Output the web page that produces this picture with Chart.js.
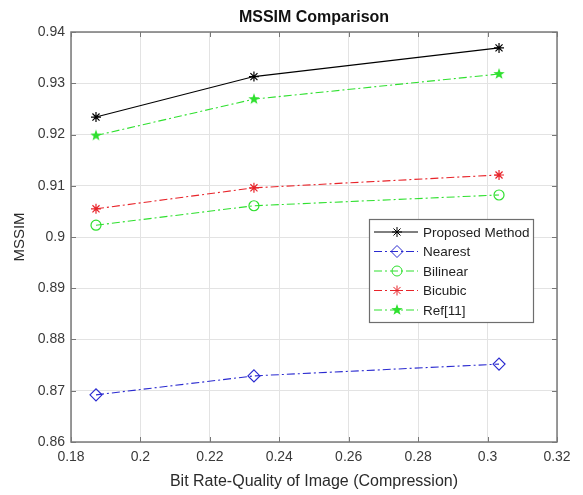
<!DOCTYPE html>
<html>
<head>
<meta charset="utf-8">
<script src="https://cdn.jsdelivr.net/npm/chart.js@4/dist/chart.umd.min.js"></script>
<style>
  body { margin: 0; background: #fff; }
  #wrap { width: 583px; height: 495px; }
</style>
</head>
<body>
<div id="wrap"><canvas id="chart"></canvas></div>
<script>
// Data
const bitRate = [0.1872, 0.2327, 0.3033];
const proposed = [0.9234, 0.9313, 0.9369];
const nearest = [0.8692, 0.8729, 0.8752];
const bilinear = [0.9023, 0.9061, 0.9082];
const bicubic = [0.9055, 0.9096, 0.9121];
const ref11 = [0.9198, 0.9269, 0.9318];

const FONT = '"Liberation Sans", Arial, Helvetica, sans-serif';
const dashDot = [8, 3, 2, 3];

function toPoints(ys) {
    return ys.map((y, i) => ({ x: bitRate[i], y: y }));
}

// filled five-pointed star for Ref[11]
function makePentagram(r, color) {
    const c = document.createElement('canvas');
    c.width = c.height = 2 * r + 2;
    const g = c.getContext('2d');
    g.fillStyle = color;
    g.beginPath();
    for (let i = 0; i < 10; i++) {
        const rad = i % 2 === 0 ? r : r * 0.4;
        const a = -Math.PI / 2 + i * Math.PI / 5;
        const px = r + 1 + rad * Math.cos(a);
        const py = r + 1 + rad * Math.sin(a);
        if (i === 0) g.moveTo(px, py); else g.lineTo(px, py);
    }
    g.closePath();
    g.fill();
    return c;
}

const green = '#2fe02f';
const star5 = makePentagram(6, green);

// MATLAB-like inward tick marks on all four sides
const boxTicks = {
    id: 'boxTicks',
    afterDatasetsDraw(chart) {
        const { ctx, chartArea: a, scales } = chart;
        ctx.save();
        ctx.strokeStyle = '#777';
        ctx.lineWidth = 1;
        ctx.beginPath();
        scales.x.ticks.forEach(t => {
            const px = Math.round(scales.x.getPixelForValue(t.value)) + 0.5;
            ctx.moveTo(px, a.bottom); ctx.lineTo(px, a.bottom - 5);
            ctx.moveTo(px, a.top); ctx.lineTo(px, a.top + 5);
        });
        scales.y.ticks.forEach(t => {
            const py = Math.round(scales.y.getPixelForValue(t.value)) + 0.5;
            ctx.moveTo(a.left, py); ctx.lineTo(a.left + 5, py);
            ctx.moveTo(a.right, py); ctx.lineTo(a.right - 5, py);
        });
        ctx.stroke();
        ctx.strokeStyle = '#7a7a7a';
        ctx.lineWidth = 1.5;
        ctx.strokeRect(a.left, a.top, a.right - a.left, a.bottom - a.top);
        ctx.restore();
    }
};

// legend box inside the plot, like the original
const boxLegend = {
    id: 'boxLegend',
    afterDraw(chart) {
        const { ctx } = chart;
        const x0 = 369, y0 = 219, w = 164, h = 103;
        ctx.save();
        ctx.fillStyle = '#fff';
        ctx.fillRect(x0, y0, w, h);
        ctx.strokeStyle = '#6e6e6e';
        ctx.lineWidth = 1.2;
        ctx.strokeRect(x0 + 0.5, y0 + 0.5, w, h);
        ctx.font = '13.5px ' + FONT;
        ctx.textBaseline = 'middle';
        chart.data.datasets.forEach((ds, i) => {
            const y = y0 + 13 + i * 19.5;
            ctx.strokeStyle = ds.borderColor;
            ctx.lineWidth = 1;
            ctx.setLineDash(ds.borderDash || []);
            ctx.beginPath();
            ctx.moveTo(x0 + 5, y);
            ctx.lineTo(x0 + 49, y);
            ctx.stroke();
            ctx.setLineDash([]);
            ctx.strokeStyle = ds.pointBorderColor;
            ctx.fillStyle = ds.pointBackgroundColor;
            Chart.helpers.drawPoint(ctx, {
                pointStyle: ds.pointStyle,
                radius: ds.pointRadius,
                rotation: 0,
                borderWidth: ds.pointBorderWidth
            }, x0 + 28, y);
            ctx.fillStyle = '#222';
            ctx.fillText(ds.label, x0 + 54, y + 1);
        });
        ctx.restore();
    }
};

function series(label, ys, color, style, radius, dash) {
    return {
        label: label,
        data: toPoints(ys),
        borderColor: color,
        borderWidth: 1.1,
        borderDash: dash,
        pointStyle: style,
        pointRadius: radius,
        pointBorderColor: color,
        pointBackgroundColor: 'rgba(0,0,0,0)',
        pointBorderWidth: 1.2,
        tension: 0
    };
}

const fmt = v => String(Number(v.toFixed(2)));

new Chart(document.getElementById('chart'), {
    type: 'line',
    data: {
        datasets: [
            series('Proposed Method', proposed, '#000000', 'star', 5, []),
            series('Nearest', nearest, '#2a2ad0', 'rectRot', 6, dashDot),
            series('Bilinear', bilinear, green, 'circle', 5, dashDot),
            series('Bicubic', bicubic, '#e8242a', 'star', 5, dashDot),
            series('Ref[11]', ref11, green, star5, 6, dashDot)
        ]
    },
    options: {
        responsive: true,
        maintainAspectRatio: false,
        animation: false,
        layout: { padding: { left: 0, right: 26, top: 0, bottom: 0 } },
        plugins: {
            legend: { display: false },
            tooltip: { enabled: false },
            title: {
                display: true,
                text: 'MSSIM Comparison',
                fullSize: false,
                color: '#111',
                font: { family: FONT, size: 16, weight: 'bold' },
                padding: { top: 8.4, bottom: 4.4 }
            }
        },
        scales: {
            x: {
                type: 'linear',
                min: 0.18,
                max: 0.32,
                afterFit: s => { s.height = 53; },
                ticks: {
                    stepSize: 0.02,
                    padding: 7,
                    color: '#3a3a3a',
                    font: { family: FONT, size: 14 },
                    callback: fmt
                },
                grid: { color: '#e3e3e3', drawTicks: false },
                border: { display: false },
                title: {
                    display: true,
                    text: 'Bit Rate-Quality of Image (Compression)',
                    color: '#2a2a2a',
                    font: { family: FONT, size: 16 },
                    padding: { top: 0, bottom: 3.4 }
                }
            },
            y: {
                min: 0.86,
                max: 0.94,
                afterFit: s => { s.width = 71; },
                ticks: {
                    stepSize: 0.01,
                    padding: 6,
                    color: '#3a3a3a',
                    font: { family: FONT, size: 14 },
                    callback: fmt
                },
                grid: { color: '#e3e3e3', drawTicks: false },
                border: { display: false },
                title: {
                    display: true,
                    text: 'MSSIM',
                    color: '#2a2a2a',
                    font: { family: FONT, size: 15 },
                    padding: { top: 11, bottom: 0 }
                }
            }
        }
    },
    plugins: [boxTicks, boxLegend]
});
</script>
</body>
</html>
